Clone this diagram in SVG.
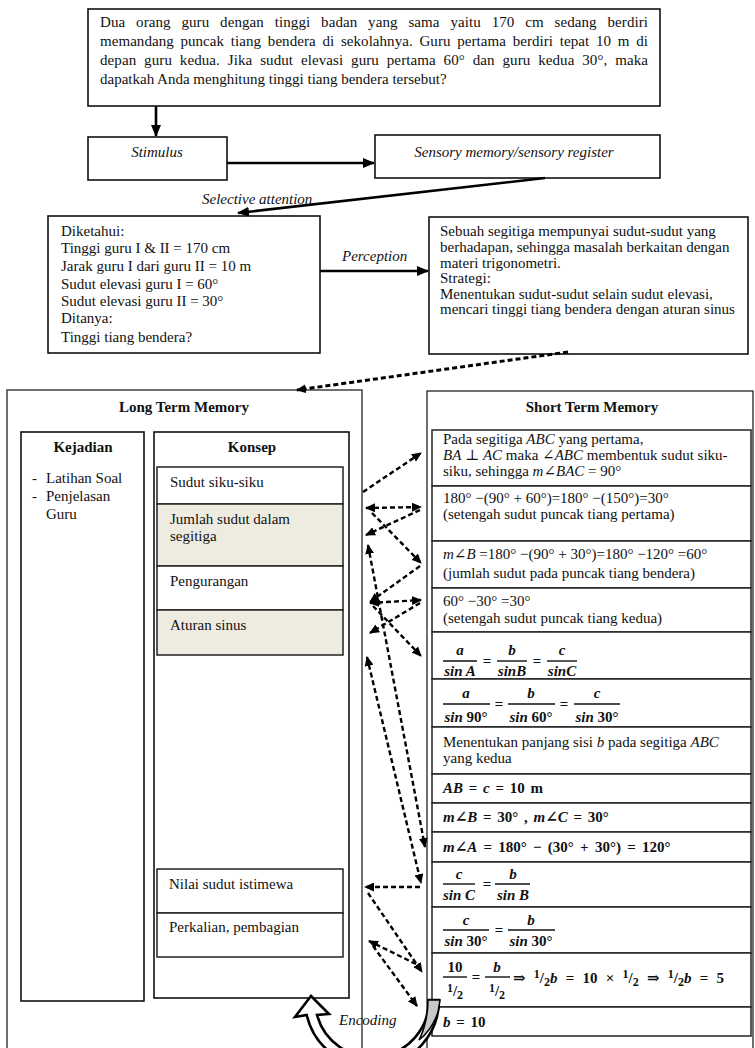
<svg xmlns="http://www.w3.org/2000/svg" width="755" height="1048" viewBox="0 0 755 1048">
<defs>
<style>
text{font-family:"Liberation Serif","DejaVu Serif",serif;font-size:15px;fill:#111}
.it{font-style:italic}
.b{font-weight:bold}
.mid{text-anchor:middle}
.sm{font-size:12px}
.box{fill:#fff;stroke:#111;stroke-width:1.6}
.frame{fill:none;stroke:#333;stroke-width:1.4}
.cell{fill:#fff;stroke:#222;stroke-width:1.5}
.tan{fill:#eeece1;stroke:#222;stroke-width:1.5}
.solid{fill:none;stroke:#000;stroke-width:2.6}
.dash{fill:none;stroke:#000;stroke-width:2.4;stroke-dasharray:5 3}
.bar{stroke:#111;stroke-width:1.4}
</style>
<marker id="sh" markerUnits="userSpaceOnUse" viewBox="0 0 12 10" refX="11" refY="5" markerWidth="12" markerHeight="10" orient="auto-start-reverse"><path d="M0,0 L12,5 L0,10 z"/></marker>
<marker id="dh" markerUnits="userSpaceOnUse" viewBox="0 0 10 9" refX="9" refY="4.5" markerWidth="10" markerHeight="9" orient="auto-start-reverse"><path d="M0,0 L10,4.5 L0,9 z"/></marker>
</defs>
<rect width="755" height="1048" fill="#fff"/>

<!-- problem statement (justified paragraph) -->
<g id="soal">
<rect class="box" x="88" y="9" width="572" height="97"/>
<text x="100" y="27" word-spacing="7" textLength="548">Dua orang guru dengan tinggi badan yang sama yaitu 170 cm sedang berdiri</text>
<text x="100" y="46" word-spacing="3" textLength="548">memandang puncak tiang bendera di sekolahnya. Guru pertama berdiri tepat 10 m di</text>
<text x="100" y="65" word-spacing="4" textLength="548">depan guru kedua. Jika sudut elevasi guru pertama 60° dan guru kedua 30°, maka</text>
<text x="100" y="84">dapatkah Anda menghitung tinggi tiang bendera tersebut?</text>
</g>

<g id="stimulus">
<rect class="box" x="88" y="137" width="139" height="43"/>
<text class="it mid" x="157" y="157">Stimulus</text>
</g>

<g id="sensory">
<rect class="box" x="375" y="135" width="285" height="43"/>
<text class="it mid" x="514" y="157">Sensory memory/sensory register</text>
</g>

<g id="diketahui">
<rect class="box" x="48" y="216" width="272" height="137"/>
<text x="61" y="236">Diketahui:</text>
<text x="61" y="253">Tinggi guru I &amp; II = 170 cm</text>
<text x="61" y="271">Jarak guru I dari guru II = 10 m</text>
<text x="61" y="289">Sudut elevasi guru I = 60°</text>
<text x="61" y="306">Sudut elevasi guru II = 30°</text>
<text x="61" y="323">Ditanya:</text>
<text x="61" y="342">Tinggi tiang bendera?</text>
</g>

<g id="strategi">
<rect class="box" x="429" y="217" width="319" height="137"/>
<text x="440" y="236">Sebuah segitiga mempunyai sudut-sudut yang</text>
<text x="440" y="252">berhadapan, sehingga masalah berkaitan dengan</text>
<text x="440" y="268">materi trigonometri.</text>
<text x="440" y="283">Strategi:</text>
<text x="440" y="299">Menentukan sudut-sudut selain sudut elevasi,</text>
<text x="440" y="314">mencari tinggi tiang bendera dengan aturan sinus</text>
</g>

<!-- long term memory -->
<g id="ltm">
<rect class="frame" x="7" y="390" width="355" height="690"/>
<text class="b mid" x="184" y="412">Long Term Memory</text>
<g id="kejadian">
<rect class="box" x="21" y="432" width="123" height="569"/>
<text class="b mid" x="83" y="452">Kejadian</text>
<text x="32" y="483">-</text><text x="46" y="483">Latihan Soal</text>
<text x="32" y="501">-</text><text x="46" y="501">Penjelasan</text>
<text x="46" y="519">Guru</text>
</g>
<g id="konsep">
<rect class="box" x="154" y="432" width="195" height="566"/>
<text class="b mid" x="252" y="452">Konsep</text>
<rect class="cell" x="157" y="467" width="186" height="37"/>
<text x="170" y="487">Sudut siku-siku</text>
<rect class="tan" x="157" y="504" width="186" height="62"/>
<text x="170" y="524">Jumlah sudut dalam</text>
<text x="170" y="541">segitiga</text>
<rect class="cell" x="157" y="566" width="186" height="44"/>
<text x="170" y="586">Pengurangan</text>
<rect class="tan" x="157" y="610" width="186" height="45"/>
<text x="170" y="630">Aturan sinus</text>
<rect class="cell" x="157" y="869" width="186" height="44"/>
<text x="169" y="889">Nilai sudut istimewa</text>
<rect class="cell" x="157" y="913" width="186" height="44"/>
<text x="169" y="932">Perkalian, pembagian</text>
</g>
</g>

<!-- short term memory -->
<g id="stm">
<rect class="frame" x="427" y="391" width="326" height="690"/>
<text class="b mid" x="592" y="412">Short Term Memory</text>
<g id="stm-rows">
<rect class="cell" x="432" y="430" width="319" height="56"/>
<rect class="cell" x="432" y="486" width="319" height="55"/>
<rect class="cell" x="432" y="541" width="319" height="47"/>
<rect class="cell" x="432" y="588" width="319" height="44"/>
<rect class="cell" x="432" y="632" width="319" height="47"/>
<rect class="cell" x="432" y="679" width="319" height="48"/>
<rect class="cell" x="432" y="727" width="319" height="47"/>
<rect class="cell" x="432" y="774" width="319" height="29"/>
<rect class="cell" x="432" y="803" width="319" height="29"/>
<rect class="cell" x="432" y="832" width="319" height="30"/>
<rect class="cell" x="432" y="862" width="319" height="45"/>
<rect class="cell" x="432" y="907" width="319" height="46"/>
<rect class="cell" x="432" y="953" width="319" height="54"/>
<rect class="cell" x="432" y="1007" width="319" height="29"/>
</g>
<text x="443" y="444">Pada segitiga <tspan class="it">ABC</tspan> yang pertama,</text>
<text x="443" y="460"><tspan class="it">BA</tspan> ⊥ <tspan class="it">AC</tspan> maka <tspan class="it">∠ABC</tspan> membentuk sudut siku-</text>
<text x="443" y="476">siku, sehingga <tspan class="it">m∠BAC</tspan> = 90°</text>
<text x="443" y="503">180° −(90° + 60°)=180° −(150°)=30°</text>
<text x="443" y="519">(setengah sudut puncak tiang pertama)</text>
<text x="443" y="559"><tspan class="it">m∠B</tspan> =180° −(90° + 30°)=180° −120° =60°</text>
<text x="443" y="578">(jumlah sudut pada puncak tiang bendera)</text>
<text x="443" y="606">60° −30° =30°</text>
<text x="443" y="623">(setengah sudut puncak tiang kedua)</text>

<!-- a/sin A = b/sin B = c/sin C -->
<g class="b">
<text class="it mid" x="460" y="655">a</text><line class="bar" x1="443" y1="661" x2="477" y2="661"/><text class="it mid" x="460" y="676">sin A</text>
<text class="mid" x="487" y="666">=</text>
<text class="it mid" x="512" y="655">b</text><line class="bar" x1="497" y1="661" x2="527" y2="661"/><text class="it mid" x="512" y="676">sinB</text>
<text class="mid" x="537" y="666">=</text>
<text class="it mid" x="562" y="655">c</text><line class="bar" x1="547" y1="661" x2="577" y2="661"/><text class="it mid" x="562" y="676">sinC</text>
</g>
<g class="b">
<text class="it mid" x="466" y="698">a</text><line class="bar" x1="443" y1="704" x2="490" y2="704"/><text class="mid" x="466" y="722"><tspan class="it">sin</tspan> 90°</text>
<text class="mid" x="499" y="709">=</text>
<text class="it mid" x="531" y="698">b</text><line class="bar" x1="508" y1="704" x2="555" y2="704"/><text class="mid" x="531" y="722"><tspan class="it">sin</tspan> 60°</text>
<text class="mid" x="564" y="709">=</text>
<text class="it mid" x="597" y="698">c</text><line class="bar" x1="574" y1="704" x2="620" y2="704"/><text class="mid" x="597" y="722"><tspan class="it">sin</tspan> 30°</text>
</g>
<text x="443" y="747">Menentukan panjang sisi <tspan class="it">b</tspan> pada segitiga <tspan class="it">ABC</tspan></text>
<text x="443" y="763">yang kedua</text>
<text class="b" x="443" y="793" word-spacing="2"><tspan class="it">AB</tspan> = <tspan class="it">c</tspan> = 10 m</text>
<text class="b" x="443" y="822" word-spacing="2"><tspan class="it">m∠B</tspan> = 30° , <tspan class="it">m∠C</tspan> = 30°</text>
<text class="b" x="443" y="852" word-spacing="2.5"><tspan class="it">m∠A</tspan> = 180° − (30° + 30°) = 120°</text>
<g class="b">
<text class="it mid" x="459" y="879">c</text><line class="bar" x1="443" y1="884" x2="475" y2="884"/><text class="it mid" x="459" y="900">sin C</text>
<text class="mid" x="487" y="889">=</text>
<text class="it mid" x="513" y="879">b</text><line class="bar" x1="495" y1="884" x2="530" y2="884"/><text class="it mid" x="513" y="900">sin B</text>
</g>
<g class="b">
<text class="it mid" x="466" y="925">c</text><line class="bar" x1="443" y1="930" x2="489" y2="930"/><text class="mid" x="466" y="946"><tspan class="it">sin</tspan> 30°</text>
<text class="mid" x="499" y="935">=</text>
<text class="it mid" x="531" y="925">b</text><line class="bar" x1="508" y1="930" x2="555" y2="930"/><text class="mid" x="531" y="946"><tspan class="it">sin</tspan> 30°</text>
</g>
<g class="b">
<text class="mid" x="455" y="972">10</text><line class="bar" x1="443" y1="977" x2="467" y2="977"/><text class="mid" x="455" y="996"><tspan dy="-4" class="sm">1</tspan><tspan dy="4">/</tspan><tspan dy="3" class="sm">2</tspan></text>
<text class="mid" x="476" y="982">=</text>
<text class="it mid" x="497" y="972">b</text><line class="bar" x1="485" y1="977" x2="510" y2="977"/><text class="mid" x="497" y="996"><tspan dy="-4" class="sm">1</tspan><tspan dy="4">/</tspan><tspan dy="3" class="sm">2</tspan></text>
<text x="513" y="983" word-spacing="4.5">⇒ <tspan dy="-5" class="sm">1</tspan><tspan dy="5">/</tspan><tspan dy="3" class="sm">2</tspan><tspan dy="-3" class="it">b</tspan> = 10 × <tspan dy="-5" class="sm">1</tspan><tspan dy="5">/</tspan><tspan dy="3" class="sm">2</tspan><tspan dy="-3"> ⇒ </tspan><tspan dy="-5" class="sm">1</tspan><tspan dy="5">/</tspan><tspan dy="3" class="sm">2</tspan><tspan dy="-3" class="it">b</tspan> = 5</text>
</g>
<text class="b" x="443" y="1027" word-spacing="2"><tspan class="it">b</tspan> = 10</text>
</g>

<!-- connectors -->
<g id="connectors">
<path class="solid" d="M156,106 L156,136" marker-end="url(#sh)"/>
<path class="solid" d="M227,163 L374,163" marker-end="url(#sh)"/>
<path class="solid" d="M545,178 L238,213" marker-end="url(#sh)"/>
<path class="solid" d="M320,271 L428,271" marker-end="url(#sh)"/>
<text class="it" x="202" y="204">Selective attention</text>
<text class="it" x="342" y="261">Perception</text>
<path class="dash" style="stroke-width:3" d="M568,352 L297,390" marker-end="url(#dh)"/>

<path class="dash" d="M363,492 L421,453" marker-end="url(#dh)"/>
<path class="dash" d="M366,508 L421,507" marker-start="url(#dh)" marker-end="url(#dh)"/>
<path class="dash" d="M420,510 L366,535" marker-end="url(#dh)"/>
<path class="dash" d="M372,513 L421,563" marker-end="url(#dh)"/>
<path class="dash" d="M368,545 L425,847" marker-start="url(#dh)" marker-end="url(#dh)"/>
<path class="dash" d="M420,566 L370,602" marker-end="url(#dh)"/>
<path class="dash" d="M370,603 L421,600" marker-start="url(#dh)" marker-end="url(#dh)"/>
<path class="dash" d="M373,606 L421,656" marker-end="url(#dh)"/>
<path class="dash" d="M420,603 L370,633" marker-end="url(#dh)"/>
<path class="dash" d="M367,657 L421,883" marker-start="url(#dh)" marker-end="url(#dh)"/>
<path class="dash" d="M420,887 L365,887" marker-end="url(#dh)"/>
<path class="dash" d="M368,893 L422,972" marker-end="url(#dh)"/>
<path class="dash" d="M416,964 L369,941" marker-end="url(#dh)"/>
<path class="dash" d="M373,946 L417,1006" marker-end="url(#dh)"/>

<!-- encoding: curved block arrow back into long term memory -->
<path d="M439,1000 A67,67 0 0 1 306.7,1015 L295,1017 L311,996 L329,1014 L317,1015 A57,57 0 0 0 429,1000 Z" fill="#fff" stroke="#000" stroke-width="2.6" stroke-linejoin="miter"/>
<path d="M428,1000 L440,1000 L438,1012 Q432,1030 419,1040 Q428,1022 428,1000 Z" fill="#c8c8c8" stroke="#000" stroke-width="1.5"/>
<text class="it" x="339" y="1025">Encoding</text>
</g>
</svg>
